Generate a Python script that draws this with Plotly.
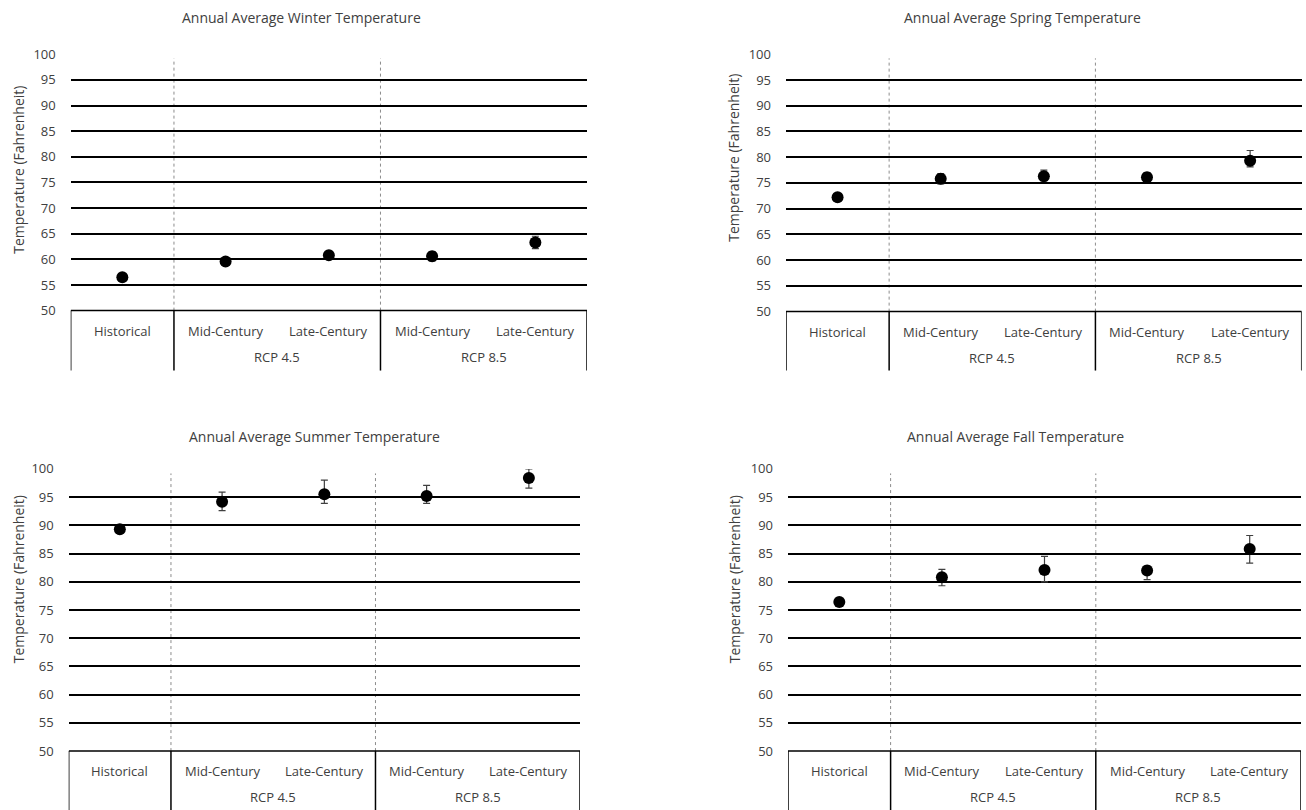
import plotly.graph_objects as go

categories = ["Historical", "Mid-Century", "Late-Century", "Mid-Century", "Late-Century"]
groups = ["RCP 4.5", "RCP 8.5"]
titles = ["Annual Average Winter Temperature", "Annual Average Spring Temperature",
          "Annual Average Summer Temperature", "Annual Average Fall Temperature"]

winter = [56.5, 59.6, 60.8, 60.6, 63.3]
winter_plus = [0.3, 0.5, 0.7, 0.9, 1.2]
winter_minus = [0.3, 0.5, 0.7, 0.9, 1.2]

spring = [72.2, 75.8, 76.3, 76.1, 79.3]
spring_plus = [0.3, 1.0, 1.2, 0.9, 2.0]
spring_minus = [0.3, 1.0, 0.9, 0.8, 1.2]

summer = [89.3, 94.2, 95.5, 95.2, 98.4]
summer_plus = [0.5, 1.7, 2.5, 1.9, 1.6]
summer_minus = [0.5, 1.6, 1.6, 1.3, 1.8]

fall = [76.4, 80.8, 82.1, 82.0, 85.8]
fall_plus = [0.3, 1.4, 2.4, 0.8, 2.4]
fall_minus = [0.3, 1.5, 2.1, 1.6, 2.5]

yticks = [50, 55, 60, 65, 70, 75, 80, 85, 90, 95, 100]

series = [(winter, winter_plus, winter_minus), (spring, spring_plus, spring_minus),
          (summer, summer_plus, summer_minus), (fall, fall_plus, fall_minus)]

W, H = 1306, 810
FONT = "Open Sans"
TXT = "#404040"

# target pixel positions in the photographed page
panels = [
    dict(l=70.7, r=587, t=54.3, b=311, bb=371, tx=301, ty=18, yx=19, yy=170),
    dict(l=786, r=1301.7, t=54.3, b=312, bb=371, tx=1022, ty=18, yx=734, yy=158),
    dict(l=68.7, r=580, t=469.5, b=752, bb=830, tx=314, ty=437, yx=18, yy=580),
    dict(l=788, r=1301, t=469.5, b=752, bb=830, tx=1015, ty=437, yx=734, yy=580),
]

# the photographed page shows the figure slightly offset and compressed vertically
OFF, SC = 9.0, 0.979

def px(x):
    return x / W

def py(y):
    return 1 - ((y - OFF) / SC) / H

fig = go.Figure()
shapes = []
annotations = []
xs = list(range(len(categories)))

def note(**kw):
    d = dict(showarrow=False, xanchor="center", yanchor="middle")
    d.update(kw)
    annotations.append(d)

for i, (p, (vals, plus, minus)) in enumerate(zip(panels, series)):
    n = "" if i == 0 else str(i + 1)
    xa, ya = "x" + n, "y" + n
    fig.add_trace(go.Scatter(
        x=xs, y=vals, mode="markers", xaxis=xa, yaxis=ya,
        marker=dict(color="black", size=12),
        error_y=dict(type="data", symmetric=False, array=plus, arrayminus=minus,
                     color="#404040", thickness=1.2, width=3.5),
        showlegend=False, cliponaxis=False))
    fig.layout["xaxis" + n] = dict(domain=[px(p["l"]), px(p["r"])], range=[-0.5, 4.5],
                                   showgrid=False, zeroline=False, showticklabels=False,
                                   showline=False, anchor=ya, fixedrange=True)
    fig.layout["yaxis" + n] = dict(domain=[py(p["b"]), py(p["t"])], range=[50, 100],
                                   tickvals=yticks, showgrid=True, gridcolor="black",
                                   gridwidth=1.5, zeroline=False, showline=False,
                                   ticks="", ticklabelstandoff=14, anchor=xa,
                                   tickfont=dict(family=FONT, size=13, color=TXT))
    for sx in (0.5, 2.5):
        shapes.append(dict(type="line", xref=xa, yref=ya, x0=sx, x1=sx, y0=50, y1=99.2,
                           line=dict(color="#8c8c8c", width=1, dash="dot"), layer="below"))
    shapes.append(dict(type="line", xref=xa, yref="paper", x0=-0.5, x1=4.5,
                       y0=py(p["b"]), y1=py(p["b"]), line=dict(color="black", width=1.5)))
    for bx in (-0.5, 0.5, 2.5, 4.5):
        shapes.append(dict(type="line", xref=xa, yref="paper", x0=bx, x1=bx,
                           y0=py(p["b"]), y1=py(p["bb"]), line=dict(color="black", width=1.5)))
    for k, c in enumerate(categories):
        note(xref=xa, yref="paper", x=k, y=py(p["b"] + 20), text=c,
             font=dict(family=FONT, size=13, color=TXT))
    for g, gx in zip(groups, (1.5, 3.5)):
        note(xref=xa, yref="paper", x=gx, y=py(p["b"] + 46), text=g,
             font=dict(family=FONT, size=13, color=TXT))
    note(xref="paper", yref="paper", x=px(p["tx"]), y=py(p["ty"]), text=titles[i],
         font=dict(family=FONT, size=14, color=TXT))
    note(xref="paper", yref="paper", x=px(p["yx"]), y=py(p["yy"]),
         text="Temperature (Fahrenheit)", textangle=-90,
         font=dict(family=FONT, size=14, color=TXT))

fig.update_layout(width=W, height=H, margin=dict(l=0, r=0, t=0, b=0),
                  paper_bgcolor="white", plot_bgcolor="white",
                  shapes=shapes, annotations=annotations, showlegend=False)

fig.write_html("out.html", config={"displayModeBar": False})
